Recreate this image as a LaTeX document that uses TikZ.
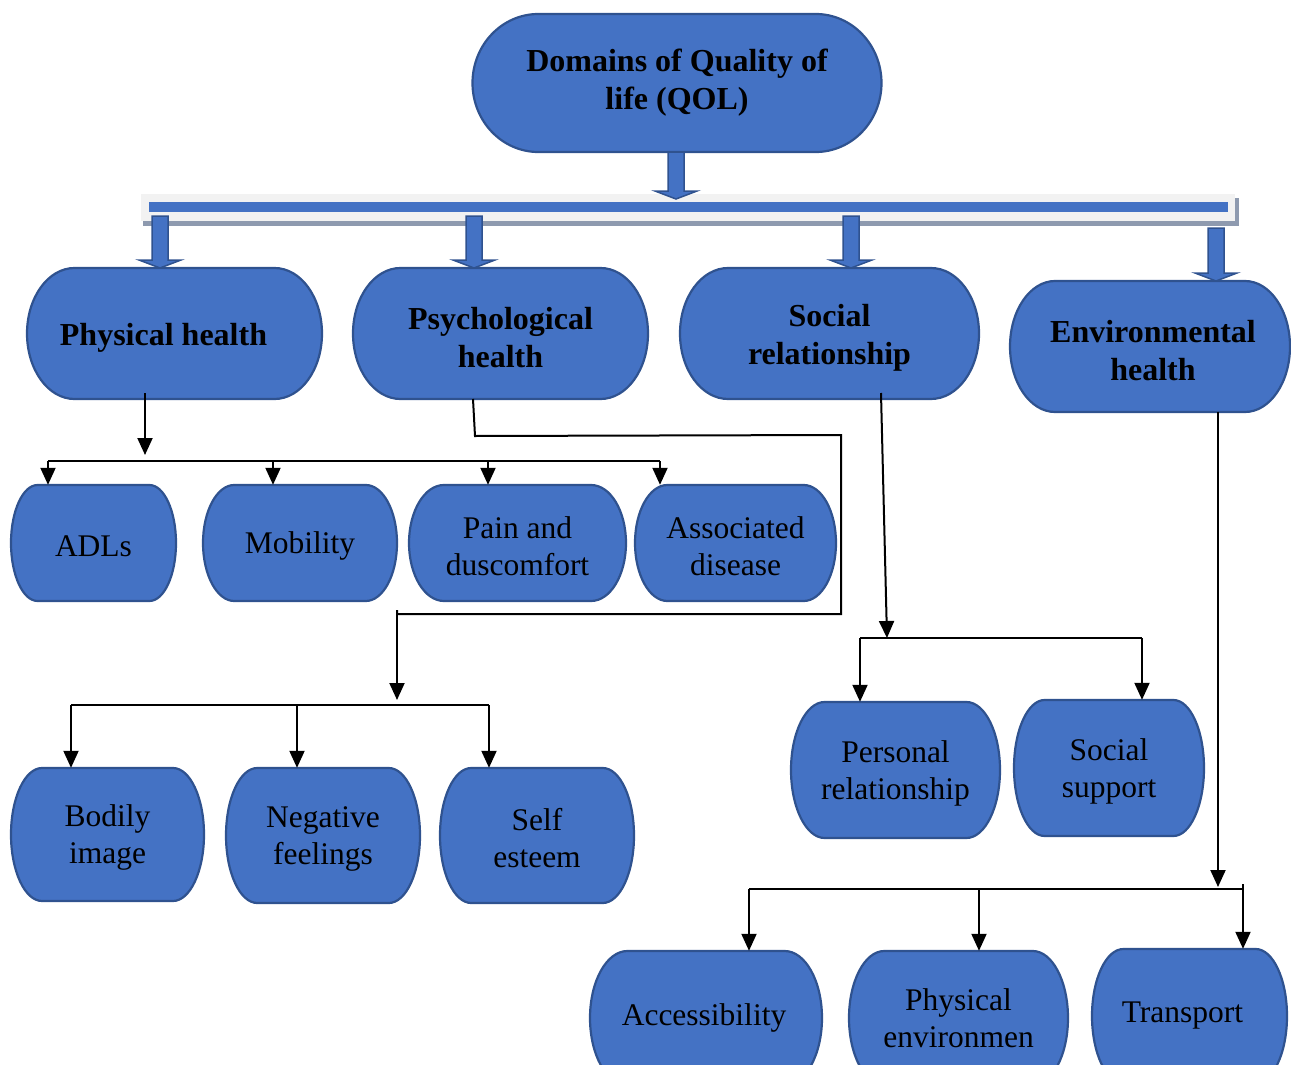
\documentclass[tikz,border=0pt]{standalone}
\usepackage{fontspec}
\setmainfont{Liberation Serif}
\usetikzlibrary{arrows.meta,calc}
\definecolor{qblue}{HTML}{4472C4}
\definecolor{qdark}{HTML}{2F528F}
\definecolor{bargray}{HTML}{F2F2F2}
\definecolor{barshadow}{HTML}{8E9AAF}
\tikzset{
  termstyle/.style={fill=qblue, draw=qdark, line width=2.2pt},
  txt/.style={align=center, inner sep=0pt, font=\fontsize{31.5}{37}\selectfont, yshift=-3pt},
  btxt/.style={align=center, inner sep=0pt, font=\fontsize{32}{38}\selectfont\bfseries, yshift=-4pt},
  blockarr/.style={fill=qblue, draw=qdark, line width=1.5pt, line join=miter},
  conn/.style={draw=black, line width=2pt},
  arr/.style={conn, -{Triangle[length=17pt,width=15pt]}},
}
% name, cx, cy, w, h, text style, text
\newcommand\tnode[7]{%
  \pgfmathsetmacro\rx{0.161*#4}%
  \pgfmathsetmacro\hw{#4/2}%
  \pgfmathsetmacro\hh{#5/2}%
  \filldraw[termstyle] (#2-\hw+\rx, #3-\hh) -- (#2+\hw-\rx, #3-\hh)
    arc[start angle=90, end angle=-90, x radius=\rx pt, y radius=\hh pt]
    -- (#2-\hw+\rx, #3+\hh)
    arc[start angle=270, end angle=90, x radius=\rx pt, y radius=\hh pt] -- cycle;
  \node[minimum width=#4pt, minimum height=#5pt, inner sep=0pt] (#1) at (#2,#3) {};
  \node[#6] (#1-t) at (#1.center) {#7};
}
% block arrow: x, ytop, ytip
\newcommand\barrow[3]{%
  \filldraw[blockarr] (#1-8,#2) -- (#1+8,#2) -- (#1+8,#3-8) -- (#1+21,#3-8)
    -- (#1,#3) -- (#1-21,#3-8) -- (#1-8,#3-8) -- cycle;
}
\begin{document}
\begin{tikzpicture}[x=1pt, y=-1pt]
\useasboundingbox (0,0) rectangle (1291,1065);
\clip (0,0) rectangle (1291,1065);

% top node
\tnode{top}{677}{83}{409}{138}{btxt, yshift=4pt}{Domains of Quality of\\life (QOL)}

% bar
\fill[barshadow] (143,198) rectangle (1239,226);
\fill[bargray] (141,194) rectangle (1235,221);
\fill[qblue] (149,202) rectangle (1228,212);
\node[inner sep=0pt, minimum width=1094pt, minimum height=27pt] (bar) at (688,207.5) {};

% second level
\tnode{phys}{174.5}{333.5}{295}{131}{btxt, xshift=-11pt}{Physical health}
\tnode{psy}{500.5}{333.5}{295}{131}{btxt}{Psychological\\health}
\tnode{soc}{829.5}{333.5}{299}{131}{btxt}{Social\\relationship}
\tnode{env}{1150}{346.5}{280}{131}{btxt, xshift=3pt}{Environmental\\health}

% block arrows
\barrow{676}{152}{199}
\barrow{160}{216}{268}
\barrow{474}{216}{268}
\barrow{851}{216}{268}
\barrow{1216}{228}{281}

% third level (physical)
\tnode{adl}{93.5}{543}{165}{116}{txt}{ADLs}
\tnode{mob}{300}{543}{194}{116}{txt}{Mobility}
\tnode{pain}{517.5}{543}{217}{116}{txt}{Pain and\\duscomfort}
\tnode{assoc}{735.5}{543}{201}{116}{txt}{Associated\\disease}

% psychological children
\tnode{bodily}{107.5}{834.5}{193}{133}{txt}{Bodily\\image}
\tnode{neg}{323}{835.5}{194}{135}{txt}{Negative\\feelings}
\tnode{self}{537}{835.5}{194}{135}{txt}{Self\\esteem}

% social children
\tnode{pers}{895.5}{770}{209}{136}{txt}{Personal\\relationship}
\tnode{ssup}{1109}{768}{190}{136}{txt}{Social\\support}

% environmental children
\tnode{acc}{706}{1018}{232}{134}{txt, yshift=3pt, xshift=-2pt}{Accessibility}
\tnode{penv}{958.5}{1018}{219}{134}{txt, yshift=3pt}{Physical\\environmen}
\tnode{trans}{1189.5}{1016}{195}{134}{txt, yshift=3pt, xshift=-7pt}{Transport}

% ---- connectors: physical health
\coordinate (pj) at (145,461);
\coordinate (pa) at (48,461);
\coordinate (pb) at (273,461);
\coordinate (pc) at (488,461);
\coordinate (pd) at (660,461);
\coordinate (p0) at (145,393);
\draw[arr, shorten >=6pt] (p0) -- (pj);
\draw[conn] (pa) -- (pd);
\draw[arr] (pa) -- (adl.north -| pa);
\draw[arr] (pb) -- (mob.north -| pb);
\draw[arr] (pc) -- (pain.north -| pc);
\draw[arr] (pd) -- (assoc.north -| pd);

% ---- connectors: psychological health
\coordinate (q0) at (473,399);
\coordinate (q1) at (475,436);
\coordinate (q2) at (841,435);
\coordinate (q3) at (841,614);
\coordinate (q4) at (397,614);
\coordinate (q5) at (397,610);
\coordinate (qj) at (397,705);
\coordinate (qa) at (71,705);
\coordinate (qb) at (297,705);
\coordinate (qc) at (489,705);
\draw[conn] (q0) -- (q1) -- (q2) -- (q3) -- (q4) -- (q5);
\draw[arr, shorten >=5pt] (q4) -- (qj);
\draw[conn] (qa) -- (qc);
\draw[arr] (qa) -- (bodily.north -| qa);
\draw[arr] (qb) -- (neg.north -| qb);
\draw[arr] (qc) -- (self.north -| qc);

% ---- connectors: social relationship
\coordinate (s0) at (881,393);
\coordinate (sj) at (887,638);
\coordinate (sa) at (860,638);
\coordinate (sb) at (1142,638);
\draw[arr] (s0) -- (sj);
\draw[conn] (sa) -- (sb);
\draw[arr] (sa) -- (pers.north -| sa);
\draw[arr] (sb) -- (ssup.north -| sb);

% ---- connectors: environmental health
\coordinate (e0) at (1218,412);
\coordinate (ej) at (1218,889);
\coordinate (ea) at (749,889);
\coordinate (eb) at (979,889);
\coordinate (ec) at (1243,889);
\coordinate (ect) at (1243,884);
\draw[arr, shorten >=2pt] (e0) -- (ej);
\draw[conn] (ea) -- (ec) -- (ect);
\draw[arr] (ea) -- (acc.north -| ea);
\draw[arr] (eb) -- (penv.north -| eb);
\draw[arr] (ec) -- (trans.north -| ec);
\end{tikzpicture}
\end{document}
